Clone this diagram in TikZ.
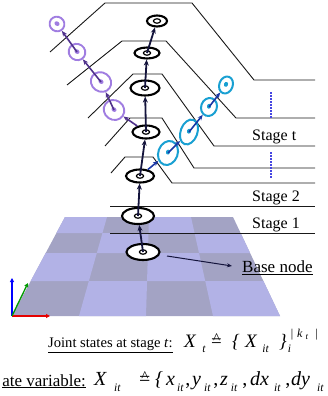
\documentclass[tikz,border=0pt]{standalone}
\usepackage{fontspec}
\setmainfont{Liberation Serif}
\usetikzlibrary{arrows.meta,shapes.geometric,calc}
\definecolor{lightc}{RGB}{178,178,230}
\definecolor{darkc}{RGB}{163,163,196}
\definecolor{purp}{RGB}{160,125,225}
\definecolor{purparr}{RGB}{80,50,140}
\definecolor{cyn}{RGB}{25,160,210}
\definecolor{cynarr}{RGB}{25,55,165}
\definecolor{navy}{RGB}{20,20,60}
\definecolor{dotc}{RGB}{70,70,225}
\newcommand\ssub[1]{\raisebox{-0.3em}{\fontsize{11.5}{11.5}\selectfont\itshape #1}}
\newcommand\esteq{\ooalign{=\cr\hidewidth\raisebox{3.8pt}{\fontsize{15}{15}\selectfont\textasciicircum}\hidewidth\cr}}
\tikzset{
  stageline/.style={line width=0.9pt, black!90},
  blk/.style={ellipse, draw=black, line width=2.1pt, fill=white, inner sep=0pt,
    path picture={\draw[line width=1.2pt] (path picture bounding box.center) ellipse [x radius=3.6pt, y radius=2.2pt];}},
  pnode/.style={ellipse, draw=purp, line width=1.9pt, inner sep=0pt, rotate=-35,
    path picture={\fill[purp] (path picture bounding box.center) ellipse [x radius=2.7pt, y radius=2.2pt];}},
  cnode/.style={ellipse, draw=cyn, line width=2pt, inner sep=0pt, rotate=70,
    path picture={\fill[cyn] (path picture bounding box.center) ellipse [x radius=2.5pt, y radius=2.1pt];}},
  blkarr/.style={navy, line width=1.8pt, -{Stealth[length=6pt,width=5pt]}},
  purarr/.style={purparr, line width=1.6pt, -{Stealth[length=5.5pt,width=4.5pt]}},
  cynarrow/.style={cynarr, line width=1.6pt, -{Stealth[length=5.5pt,width=4.5pt]}},
  axarr/.style={line width=1.3pt, -{Triangle[length=4pt,width=4pt]}},
  lbl/.style={anchor=base west, inner sep=0pt, font=\fontsize{16}{18}\selectfont},
  frma/.style={anchor=base west, inner sep=0pt, font=\fontsize{19}{22}\selectfont},
  frmb/.style={anchor=base west, inner sep=0pt, font=\fontsize{20}{23}\selectfont},
  dots/.style={dotc, line width=1.5pt, dash pattern=on 1.5pt off 1.5pt},
}
\begin{document}
\begin{tikzpicture}[x=1pt,y=-1pt]
\useasboundingbox (0,0) rectangle (328,396);
\clip (0,0) rectangle (328,396);
% ground plane
\coordinate (L0) at (65,217);   \coordinate (R0) at (233,217);
\coordinate (L1) at (56.4,233); \coordinate (R1) at (240.6,233);
\coordinate (L2) at (45.7,253); \coordinate (R2) at (250.1,253);
\coordinate (L3) at (30.7,281); \coordinate (R3) at (263.4,281);
\coordinate (L4) at (12,316);   \coordinate (R4) at (280,316);
\fill[darkc] (L0)--(R0)--(R4)--(L4)--cycle;
\foreach \i in {0,...,3}{
  \foreach \j in {0,...,3}{
    \pgfmathtruncatemacro\ii{\i+1}
    \pgfmathtruncatemacro\pp{mod(\i+\j,2)}
    \pgfmathsetmacro\fa{\j/4}
    \pgfmathsetmacro\fb{(\j+1)/4}
    \ifnum\pp=0
      \fill[lightc] ($(L\i)!\fa!(R\i)$) -- ($(L\i)!\fb!(R\i)$) -- ($(L\ii)!\fb!(R\ii)$) -- ($(L\ii)!\fa!(R\ii)$) -- cycle;
    \fi
  }
}
% stage lines
\draw[stageline] (50,52) -- (105,3) -- (192,3) -- (254,80) -- (315,80);
\draw[stageline] (67,85) -- (122,41) -- (166,41) -- (236,118) -- (315,118);
\draw[stageline] (88,118) -- (133,74) -- (162,74) -- (214,146) -- (315,146);
\draw[stageline] (105,146) -- (130,118) -- (162,118) -- (194,168) -- (315,168);
\draw[stageline] (111,173) -- (125,157) -- (153,157) -- (172,183) -- (315,183);
\draw[stageline] (110,206) -- (315,206);
\draw[stageline] (110,233) -- (315,233);
% dotted markers
\draw[dots] (271,92) -- (271,118);
\draw[dots] (271,152) -- (271,178);
% labels
\node[lbl] (st) at (252,140) {Stage t};
\node[lbl] (s2) at (252,201) {Stage 2};
\node[lbl] (s1) at (252,228.5) {Stage 1};
\node[lbl, font=\fontsize{17}{19}\selectfont] (bl) at (242,272.5) {\underline{Base node}};
% axes
\coordinate (O) at (12,316);
\coordinate (AX) at (50,316);
\coordinate (AY) at (12,278);
\coordinate (AZ) at (28,283);
\draw[axarr, red!90!black] (O) -- (AX);
\draw[axarr, blue] (O) -- (AY);
\draw[axarr, green!60!black] (O) -- (AZ);
% black chain
\node[blk, minimum width=33pt, minimum height=16pt] (n0) at (143,252) {};
\node[blk, minimum width=32pt, minimum height=16pt] (n1) at (138,216) {};
\node[blk, minimum width=28pt, minimum height=13pt] (n2) at (140,176) {};
\node[blk, minimum width=27pt, minimum height=13pt] (n3) at (146,132) {};
\node[blk, minimum width=29pt, minimum height=15pt] (n4) at (145,88) {};
\node[blk, minimum width=25pt, minimum height=11pt] (n5) at (147,53) {};
\node[blk, minimum width=20pt, minimum height=11pt] (n6) at (157,21) {};
% purple chain
\node[pnode, minimum width=21pt, minimum height=19.5pt] (p4) at (114,110) {};
\node[pnode, minimum width=21pt, minimum height=19pt] (p3) at (101,82) {};
\node[pnode, minimum width=17pt, minimum height=16pt] (p2) at (77,52) {};
\node[pnode, minimum width=15pt, minimum height=14.5pt] (p1) at (57,24) {};
% cyan chain
\node[cnode, minimum width=24.6pt, minimum height=19.4pt] (c1) at (168,153) {};
\node[cnode, minimum width=25.8pt, minimum height=16.8pt] (c2) at (189,132) {};
\node[cnode, minimum width=18.3pt, minimum height=15.7pt] (c3) at (209,107) {};
\node[cnode, minimum width=17.4pt, minimum height=13.5pt] (c4) at (226,85) {};
% connectors
\draw[blkarr] (n0.center) -- (n1);
\draw[blkarr] (n1.center) -- (n2);
\draw[blkarr] (n2.center) -- (n3);
\draw[blkarr] (n3.center) -- (n4);
\draw[blkarr] (n4.center) -- (n5);
\draw[blkarr] (n5.center) -- (n6);
\draw[purarr] (n3) -- (p4);
\draw[purarr] (p4.center) -- (p3);
\draw[purarr] (p3.center) -- (p2);
\draw[purarr] (p2.center) -- (p1);
\draw[cynarrow] (n2) -- (c1);
\draw[cynarrow] (c1.center) -- (c2);
\draw[cynarrow] (c2.center) -- (c3);
\draw[cynarrow] (c3.center) -- (c4);
% base node pointer
\coordinate (bs) at (167,256);
\coordinate (be) at (232,266);
\draw[navy, line width=1pt, -{Stealth[length=5pt,width=4pt]}] (bs) -- (be);
% bottom text, line 1
\node[anchor=base west, inner sep=0pt, font=\fontsize{14.6}{17}\selectfont] (jt) at (48,347.5) {\underline{Joint states at stage \textit{t}:}};
\node[frma] (fa1) at (184,347) {\textit{X}\hspace{6pt}\ssub{t}};
\node[frma] (fa2) at (211,347) {\esteq};
\node[frma] (fa3) at (232,347) {\textit{\{}};
\node[frma] (fa4) at (245,347) {\textit{X}\hspace{5pt}\ssub{it}};
\node[frma] (fa5) at (279,347) {\textit{\}}\rlap{\hspace{1pt}\ssub{i}}\raisebox{0.5em}{\fontsize{12}{12}\selectfont\hspace{4pt}|\hspace{4pt}\textit{k}\hspace{3pt}\raisebox{-0.2em}{\fontsize{9}{9}\selectfont\textit{t}}\hspace{7pt}|}};
% bottom text, line 2
\node[anchor=base east, inner sep=0pt, font=\fontsize{17}{19}\selectfont] (sv) at (86,386) {\underline{ate variable:}};
\node[frmb] (fb1) at (94,385) {\textit{X}\hspace{7pt}\ssub{it}};
\node[frmb] (fb2) at (139,385) {\esteq};
\node[frmb] (fb3) at (155,385) {\textit{\{}};
\node[frmb] (fb4) at (166,385) {\textit{x}\hspace{2pt}\ssub{it}\hspace{2pt},};
\node[frmb] (fb5) at (192,385) {\textit{y}\hspace{3pt}\ssub{it}\hspace{3pt},};
\node[frmb] (fb6) at (220,385) {\textit{z}\hspace{3pt}\ssub{it}\hspace{5pt},};
\node[frmb] (fb7) at (250,385) {\textit{dx}\hspace{5pt}\ssub{it}\hspace{5pt},};
\node[frmb] (fb8) at (291,385) {\textit{dy}\hspace{7pt}\ssub{it}};
\end{tikzpicture}
\end{document}
